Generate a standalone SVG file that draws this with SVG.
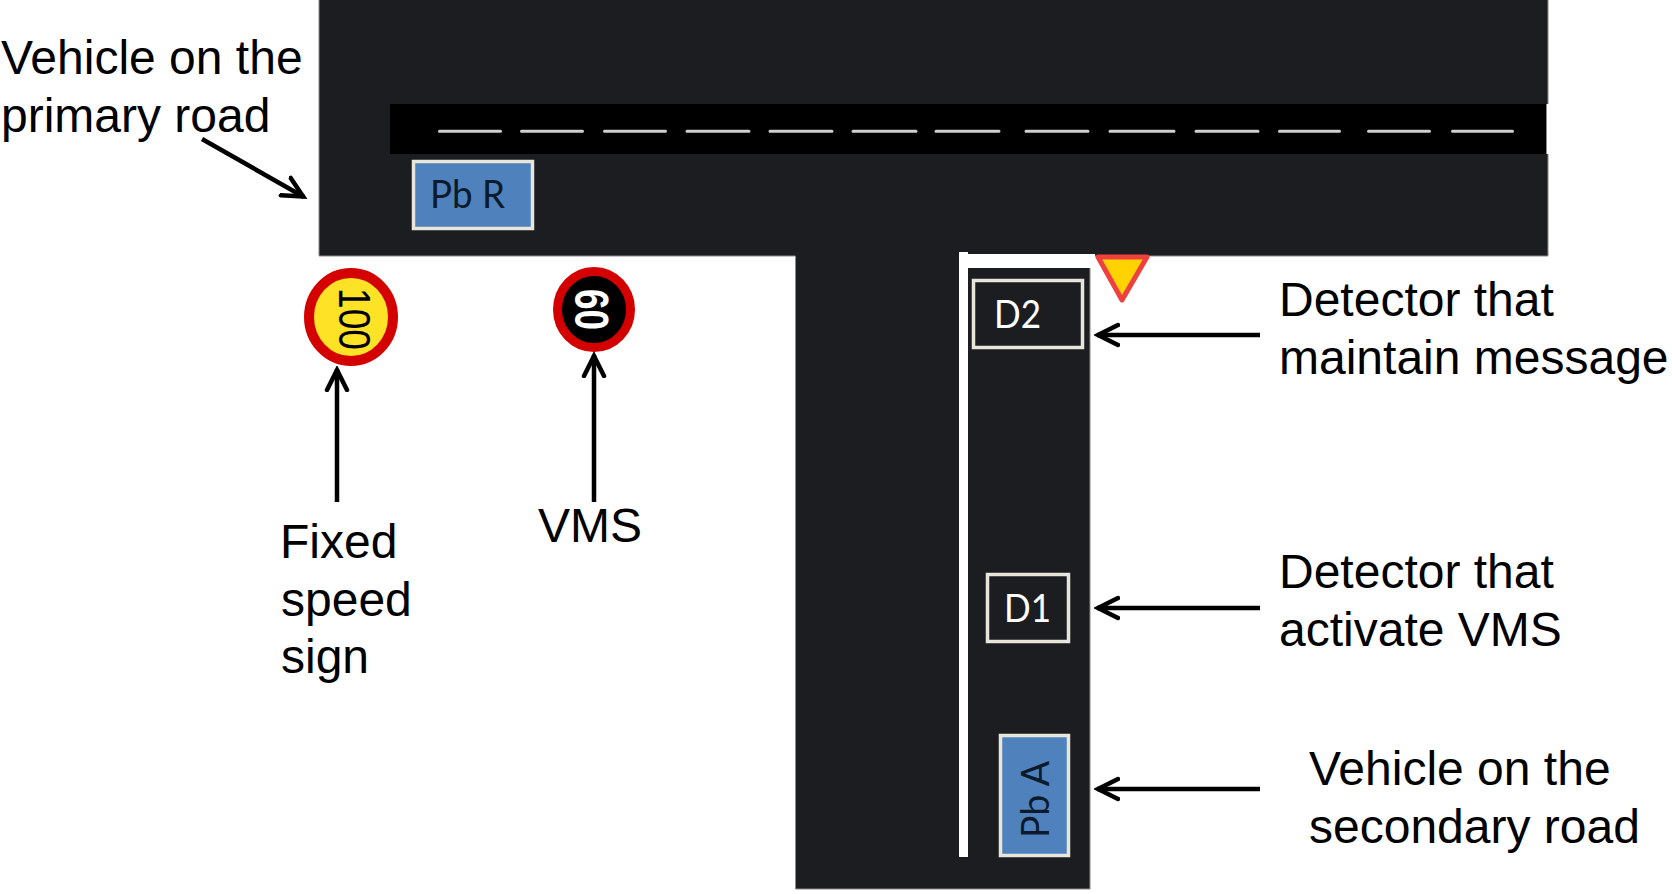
<svg xmlns="http://www.w3.org/2000/svg" width="1672" height="894" viewBox="0 0 1672 894">
<style>
.road{fill:#1c1d21;stroke:#8a8a8a;stroke-width:1}
.dash{stroke:#d0d0d0;stroke-width:3;stroke-linecap:round;fill:none}
.lbl{font-family:"Liberation Sans",Arial,sans-serif;font-size:48px;fill:#000}
.box{font-family:Lato,"Open Sans",sans-serif;font-size:39px}
.det{fill:#1c1d21;stroke:#e8e6da;stroke-width:3.500}
.veh{fill:#4f81bd;stroke:#e8e6da;stroke-width:3.500}
.arr{stroke:#000;stroke-width:4.500;fill:none}
.head{stroke:#000;stroke-width:4.500;fill:none;stroke-linecap:round;stroke-linejoin:miter}
.num{font-family:"Liberation Sans",Arial,sans-serif}
</style>
<defs>
<marker id="open" viewBox="0 0 26 26" refX="23" refY="13" markerWidth="26" markerHeight="26" markerUnits="userSpaceOnUse" orient="auto">
<path class="head" d="M2 3L22 13L2 23"/>
</marker>
</defs>
<rect width="1672" height="894" fill="#fff"/>
<g id="road">
<path class="road" d="M319 -2H1548V256H1090V889H795.500V256H319Z"/>
<rect x="1546" y="104" width="4" height="50" fill="#fff"/>
<rect x="390" y="104" width="1156" height="50" fill="#000"/>
<rect x="1546" y="104" width="1" height="50" fill="#8a8a8a"/>
<g class="dash">
<path d="M439.500 131.300H500.500M521.500 131.300H582.500M604.500 131.300H665.500M687 131.300H749M770 131.300H832M853 131.300H916M936 131.300H999M1026 131.300H1088M1110 131.300H1174M1196 131.300H1258M1279.500 131.300H1339.500M1368.500 131.300H1429.500M1452.500 131.300H1512.500"/>
</g>
<path d="M959 252H968V254H1095V268H968V857H959Z" fill="#fff"/>
</g>
<g id="sign-100">
<ellipse cx="351" cy="317" rx="42" ry="44" fill="#fde225" stroke="#d40000" stroke-width="10"/>
<text class="num" transform="translate(339 288) rotate(90)" font-size="44" textLength="62" lengthAdjust="spacingAndGlyphs" fill="#000">100</text>
</g>
<g id="sign-60">
<ellipse cx="594" cy="309.500" rx="36.500" ry="38" fill="#000" stroke="#d40000" stroke-width="9"/>
<text class="num" transform="translate(575 289) rotate(90)" font-size="48" font-weight="bold" textLength="41" lengthAdjust="spacingAndGlyphs" fill="#fff">60</text>
</g>
<g id="yield-sign">
<path d="M1098 257H1147L1122 300Z" fill="#ffd200" stroke="#ef4040" stroke-width="5" stroke-linejoin="round"/>
</g>
<g id="pb-r">
<rect class="veh" x="413.500" y="161.500" width="119" height="67"/>
<text class="box" x="430" y="208" textLength="75" lengthAdjust="spacingAndGlyphs" fill="#0b1a2c">Pb R</text>
</g>
<g id="d2">
<rect class="det" x="973.500" y="280.500" width="109" height="67"/>
<text class="box" x="994" y="328" textLength="47" lengthAdjust="spacingAndGlyphs" fill="#fff">D2</text>
</g>
<g id="d1">
<rect class="det" x="987.500" y="574.500" width="81" height="67"/>
<text class="box" x="1004" y="622" textLength="47" lengthAdjust="spacingAndGlyphs" fill="#fff">D1</text>
</g>
<g id="pb-a">
<rect class="veh" x="1000.500" y="735.500" width="68" height="120"/>
<text class="box" transform="translate(1049 838) rotate(-90)" textLength="77" lengthAdjust="spacingAndGlyphs" fill="#0b1a2c">Pb A</text>
</g>
<g id="connectors">
<path class="arr" marker-end="url(#open)" d="M202 139L304 197"/>
<path class="arr" marker-end="url(#open)" d="M337 502V369"/>
<path class="arr" marker-end="url(#open)" d="M594 502V355"/>
<path class="arr" marker-end="url(#open)" d="M1260 335H1097"/>
<path class="arr" marker-end="url(#open)" d="M1260 608H1097"/>
<path class="arr" marker-end="url(#open)" d="M1260 789H1097"/>
</g>
<g id="labels">
<text class="lbl" x="1" y="74">Vehicle on the</text>
<text class="lbl" x="1" y="132">primary road</text>
<text class="lbl" x="280" y="558">Fixed</text>
<text class="lbl" x="281" y="616">speed</text>
<text class="lbl" x="281" y="673">sign</text>
<text class="lbl" x="538" y="542">VMS</text>
<text class="lbl" x="1279" y="316">Detector that</text>
<text class="lbl" x="1279" y="374">maintain message</text>
<text class="lbl" x="1279" y="588">Detector that</text>
<text class="lbl" x="1279" y="646">activate VMS</text>
<text class="lbl" x="1309" y="785">Vehicle on the</text>
<text class="lbl" x="1309" y="843">secondary road</text>
</g>
</svg>
